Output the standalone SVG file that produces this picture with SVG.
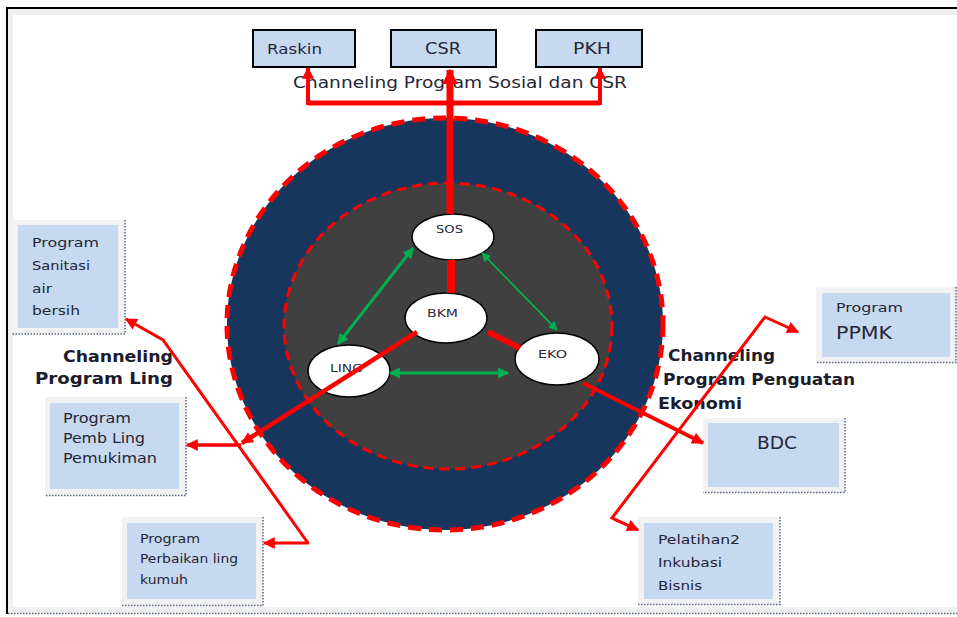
<svg xmlns="http://www.w3.org/2000/svg" width="957" height="617" viewBox="0 0 957 617">
  <defs>
    <marker id="ah" viewBox="0 0 10 10" refX="9" refY="5" markerWidth="13" markerHeight="12" markerUnits="userSpaceOnUse" orient="auto">
      <path d="M0,0 L10,5 L0,10 z" fill="#ff0000"/>
    </marker>
    <marker id="ahBig" viewBox="0 0 10 10" refX="9" refY="5" markerWidth="16" markerHeight="24" markerUnits="userSpaceOnUse" orient="auto">
      <path d="M0,0 L10,5 L0,10 z" fill="#ff0000"/>
    </marker>
    <marker id="gh" viewBox="0 0 10 10" refX="9" refY="5" markerWidth="12" markerHeight="11" markerUnits="userSpaceOnUse" orient="auto-start-reverse">
      <path d="M0,0 L10,5 L0,10 z" fill="#00b050"/>
    </marker>
    <marker id="ghs" viewBox="0 0 10 10" refX="9" refY="5" markerWidth="10" markerHeight="9" markerUnits="userSpaceOnUse" orient="auto-start-reverse">
      <path d="M0,0 L10,5 L0,10 z" fill="#00b050"/>
    </marker>
  </defs>
  <style>
    .frame { fill: #f0f0f0; }
    .topbox { fill: #c6d9f1; stroke: #000; stroke-width: 2; }
    .card { fill: #f2f2f2; }
    .cardin { fill: #c6d9f1; }
    .dots { fill: none; stroke: #5a6a80; stroke-width: 1.5; stroke-dasharray: 1.5 1.5; }
    .txt { font-family: "DejaVu Sans", "Liberation Sans", sans-serif; fill: #262636; }
    .lbl { font-family: "DejaVu Sans", "Liberation Sans", sans-serif; font-weight: bold; font-size: 16px; fill: #1c1c2c; }
    .node { fill: #ffffff; stroke: #000; stroke-width: 1.5; }
    .ntxt { font-family: "DejaVu Sans", "Liberation Sans", sans-serif; font-size: 10px; fill: #2a2a3a; }
    .red { fill: none; stroke: #ff0000; stroke-linejoin: miter; }
    .grn { fill: none; stroke: #00b050; }
  </style>

  <!-- page frame -->
  <rect x="0" y="0" width="957" height="617" fill="#ffffff"/>
  <rect class="frame" x="8" y="9" width="949" height="6"/>
  <rect class="frame" x="8" y="9" width="5" height="604"/>
  <rect class="frame" x="8" y="607" width="949" height="6"/>
  <line x1="7" y1="8" x2="957" y2="8" stroke="#000" stroke-width="2"/>
  <line x1="7" y1="7" x2="7" y2="614" stroke="#000" stroke-width="2"/>
  <line x1="8" y1="613.5" x2="957" y2="613.5" class="dots"/>

  <!-- rings -->
  <ellipse cx="445" cy="324" rx="218" ry="206" fill="#17365d" stroke="#ff0000" stroke-width="5" stroke-dasharray="13 8"/>
  <ellipse cx="448" cy="326" rx="164" ry="143" fill="#404040" stroke="#ff0000" stroke-width="3" stroke-dasharray="10 6"/>

  <!-- top boxes -->
  <g id="raskin">
    <rect class="topbox" x="253" y="30" width="102" height="37"/>
    <text class="txt" x="267" y="54" font-size="14" textLength="55" lengthAdjust="spacingAndGlyphs">Raskin</text>
  </g>
  <g id="csr">
    <rect class="topbox" x="391" y="30" width="105" height="37"/>
    <text class="txt" x="425" y="54" font-size="15" textLength="36" lengthAdjust="spacingAndGlyphs">CSR</text>
  </g>
  <g id="pkh">
    <rect class="topbox" x="536" y="30" width="106" height="37"/>
    <text class="txt" x="573" y="54" font-size="15" textLength="38" lengthAdjust="spacingAndGlyphs">PKH</text>
  </g>
  <text class="txt" x="293" y="88" font-size="16" fill="#3a3a44" textLength="334" lengthAdjust="spacingAndGlyphs">Channeling Program Sosial dan CSR</text>

  <!-- side cards -->
  <g id="sanitasi">
    <rect class="card" x="12" y="220" width="113" height="114"/>
    <rect class="cardin" x="18" y="225" width="100" height="103"/>
    <path class="dots" d="M125,220 V334 H12"/>
    <text class="txt" font-size="13">
      <tspan x="32" y="247" textLength="67" lengthAdjust="spacingAndGlyphs">Program</tspan>
      <tspan x="32" y="270" textLength="58" lengthAdjust="spacingAndGlyphs">Sanitasi</tspan>
      <tspan x="32" y="293" textLength="20" lengthAdjust="spacingAndGlyphs">air</tspan>
      <tspan x="32" y="315" textLength="48" lengthAdjust="spacingAndGlyphs">bersih</tspan>
    </text>
  </g>
  <g id="pemukiman">
    <rect class="card" x="45" y="397" width="141" height="99"/>
    <rect class="cardin" x="50" y="403" width="129" height="86"/>
    <path class="dots" d="M186,397 V495.5 H45"/>
    <text class="txt" font-size="14">
      <tspan x="63" y="423" textLength="68" lengthAdjust="spacingAndGlyphs">Program</tspan>
      <tspan x="63" y="443" textLength="82" lengthAdjust="spacingAndGlyphs">Pemb Ling</tspan>
      <tspan x="63" y="463" textLength="94" lengthAdjust="spacingAndGlyphs">Pemukiman</tspan>
    </text>
  </g>
  <g id="perbaikan">
    <rect class="card" x="122" y="517" width="141" height="89"/>
    <rect class="cardin" x="127" y="523" width="129" height="76"/>
    <path class="dots" d="M263,517 V605.5 H122"/>
    <text class="txt" font-size="13">
      <tspan x="140" y="543" textLength="60" lengthAdjust="spacingAndGlyphs">Program</tspan>
      <tspan x="140" y="563" textLength="98" lengthAdjust="spacingAndGlyphs">Perbaikan ling</tspan>
      <tspan x="140" y="584" textLength="48" lengthAdjust="spacingAndGlyphs">kumuh</tspan>
    </text>
  </g>
  <g id="ppmk">
    <rect class="card" x="816" y="287" width="141" height="76"/>
    <rect class="cardin" x="822" y="293" width="128" height="64"/>
    <path class="dots" d="M956,287 V362.5 H816"/>
    <text class="txt" x="836" y="312" font-size="13" textLength="67" lengthAdjust="spacingAndGlyphs">Program</text>
    <text class="txt" x="836" y="339" font-size="17" textLength="56" lengthAdjust="spacingAndGlyphs">PPMK</text>
  </g>
  <g id="bdc">
    <rect class="card" x="703" y="418" width="142" height="75"/>
    <rect class="cardin" x="708" y="423" width="131" height="64"/>
    <path class="dots" d="M845,418 V492.5 H703"/>
    <text class="txt" x="757" y="449" font-size="17" textLength="40" lengthAdjust="spacingAndGlyphs">BDC</text>
  </g>
  <g id="pelatihan">
    <rect class="card" x="638" y="517" width="142" height="88"/>
    <rect class="cardin" x="644" y="523" width="129" height="76"/>
    <path class="dots" d="M780,517 V604.5 H638"/>
    <text class="txt" font-size="13">
      <tspan x="658" y="544" textLength="82" lengthAdjust="spacingAndGlyphs">Pelatihan2</tspan>
      <tspan x="658" y="567" textLength="64" lengthAdjust="spacingAndGlyphs">Inkubasi</tspan>
      <tspan x="658" y="590" textLength="44" lengthAdjust="spacingAndGlyphs">Bisnis</tspan>
    </text>
  </g>

  <!-- channel labels -->
  <g id="label-ling">
    <text class="lbl" x="63" y="362" textLength="110" lengthAdjust="spacingAndGlyphs">Channeling</text>
    <text class="lbl" x="35" y="384" textLength="138" lengthAdjust="spacingAndGlyphs">Program  Ling</text>
  </g>
  <g id="label-eko">
    <text class="lbl" x="668" y="361" textLength="107" lengthAdjust="spacingAndGlyphs">Channeling</text>
    <text class="lbl" x="663" y="385" textLength="192" lengthAdjust="spacingAndGlyphs">Program Penguatan</text>
    <text class="lbl" x="658" y="409" textLength="84" lengthAdjust="spacingAndGlyphs">Ekonomi</text>
  </g>

  <!-- inner nodes -->
  <g id="sos">
    <ellipse class="node" cx="453" cy="237" rx="41" ry="23"/>
    <text class="ntxt" x="436" y="233" textLength="27" lengthAdjust="spacingAndGlyphs">SOS</text>
  </g>
  <g id="bkm">
    <ellipse class="node" cx="446" cy="318" rx="41" ry="25"/>
    <text class="ntxt" x="427" y="317" textLength="31" lengthAdjust="spacingAndGlyphs">BKM</text>
  </g>
  <g id="ling">
    <ellipse class="node" cx="349" cy="371" rx="41" ry="26"/>
    <text class="ntxt" x="330" y="372" textLength="33" lengthAdjust="spacingAndGlyphs">LING</text>
  </g>
  <g id="eko">
    <ellipse class="node" cx="557" cy="359" rx="42" ry="26"/>
    <text class="ntxt" x="538" y="358" textLength="29" lengthAdjust="spacingAndGlyphs">EKO</text>
  </g>

  <!-- connectors -->
  <g id="connectors">
    <!-- social channel -->
    <line class="red" x1="450" y1="214" x2="450" y2="70" stroke-width="7" marker-end="url(#ahBig)"/>
    <path class="red" d="M308,103 H600" stroke-width="5"/>
    <line class="red" x1="308" y1="105" x2="308" y2="68" stroke-width="4" marker-end="url(#ah)"/>
    <line class="red" x1="600" y1="105" x2="600" y2="68" stroke-width="4" marker-end="url(#ah)"/>

    <!-- BKM links -->
    <line class="red" x1="451" y1="260" x2="451" y2="293" stroke-width="8"/>
    <line class="red" x1="488" y1="332" x2="520" y2="348" stroke-width="6"/>

    <!-- green node links -->
    <line class="grn" x1="338" y1="344" x2="413" y2="248" stroke-width="3" marker-start="url(#gh)" marker-end="url(#gh)"/>
    <line class="grn" x1="482" y1="253" x2="557" y2="330" stroke-width="1.8" marker-start="url(#ghs)" marker-end="url(#ghs)"/>
    <line class="grn" x1="390" y1="373" x2="508" y2="373" stroke-width="3" marker-start="url(#gh)" marker-end="url(#gh)"/>

    <!-- environment channel -->
    <line class="red" x1="417" y1="332" x2="242" y2="443" stroke-width="4.5" marker-end="url(#ah)"/>
    <line class="red" x1="241" y1="445" x2="187" y2="445" stroke-width="3.5" marker-end="url(#ah)"/>
    <polyline class="red" points="308,543 163,340 126,319" stroke-width="3" marker-end="url(#ah)"/>
    <line class="red" x1="309" y1="543" x2="264" y2="543" stroke-width="3" marker-end="url(#ah)"/>

    <!-- economy channel -->
    <line class="red" x1="583" y1="383" x2="703" y2="443" stroke-width="4" marker-end="url(#ah)"/>
    <polyline class="red" points="638,530 612,518 765,317 798,332" stroke-width="3" marker-end="url(#ah)"/>
    <line class="red" x1="614" y1="519" x2="638" y2="530" stroke-width="3" marker-end="url(#ah)"/>
  </g>
</svg>
